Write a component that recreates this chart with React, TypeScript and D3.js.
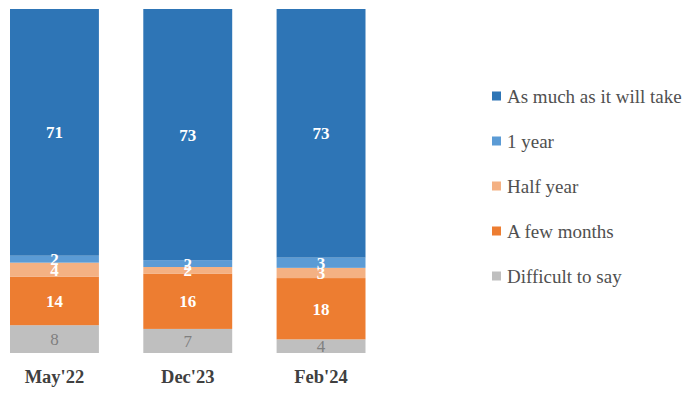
import React from "react";
import * as d3 from "d3";

const categories = ["May'22", "Dec'23", "Feb'24"];
const seriesNames = ["Difficult to say", "A few months", "Half year", "1 year", "As much as it will take"];
const difficult = [8, 7, 4];
const fewMonths = [14, 16, 18];
const halfYear = [4, 2, 3];
const oneYear = [2, 2, 3];
const asMuch = [71, 73, 73];
const colors = ["#BFBFBF", "#ED7D31", "#F4B183", "#5B9BD5", "#2E75B6"];
const legendOrder = [4, 3, 2, 1, 0];

export default function App() {
  const W = 690, H = 397;
  const series = [difficult, fewMonths, halfYear, oneYear, asMuch];
  const rows = categories.map((c, i) => {
    const total = d3.sum(series, (s) => s[i]);
    const o: any = { cat: c };
    series.forEach((s, k) => (o[seriesNames[k]] = s[i] / total));
    return o;
  });
  const stack = d3.stack<any>().keys(seriesNames)(rows);
  const x = d3.scaleBand().domain(categories).range([10, 365.5]).paddingInner(0.333).paddingOuter(0);
  const y = d3.scaleLinear().domain([0, 1]).range([353, 9]);
  const font = "'Liberation Serif', 'Times New Roman', serif";
  return (
    <svg width={W} height={H} style={{ position: "absolute", left: 0, top: 0, background: "#fff", fontFamily: font }}>
      {stack.map((layer, k) => (
        <g key={k}>
          {layer.map((d, i) => (
            <rect key={i} x={x(categories[i])} width={x.bandwidth()} y={y(d[1])} height={y(d[0]) - y(d[1])} fill={colors[k]} />
          ))}
        </g>
      ))}
      {stack.map((layer, k) => (
        <g key={"l" + k}>
          {layer.map((d, i) => (
            <text key={i} x={(x(categories[i]) as number) + x.bandwidth() / 2} y={(y(d[0]) + y(d[1])) / 2}
              dy="0.35em" textAnchor="middle" fontSize={17}
              fontWeight={k === 0 ? "normal" : "bold"} fill={k === 0 ? "#7F7F7F" : "#FFFFFF"}>
              {series[k][i]}
            </text>
          ))}
        </g>
      ))}
      {categories.map((c) => (
        <text key={c} x={(x(c) as number) + x.bandwidth() / 2} y={377} dy="0.35em" textAnchor="middle"
          fontSize={18.5} fontWeight="bold" fill="#404040">{c}</text>
      ))}
      {legendOrder.map((k, j) => (
        <g key={k} transform={`translate(492, ${96 + j * 45})`}>
          <rect x={0} y={-4.5} width={9} height={9} fill={colors[k]} />
          <text x={15} y={0} dy="0.35em" fontSize={19} fill="#505050">{seriesNames[k]}</text>
        </g>
      ))}
    </svg>
  );
}
